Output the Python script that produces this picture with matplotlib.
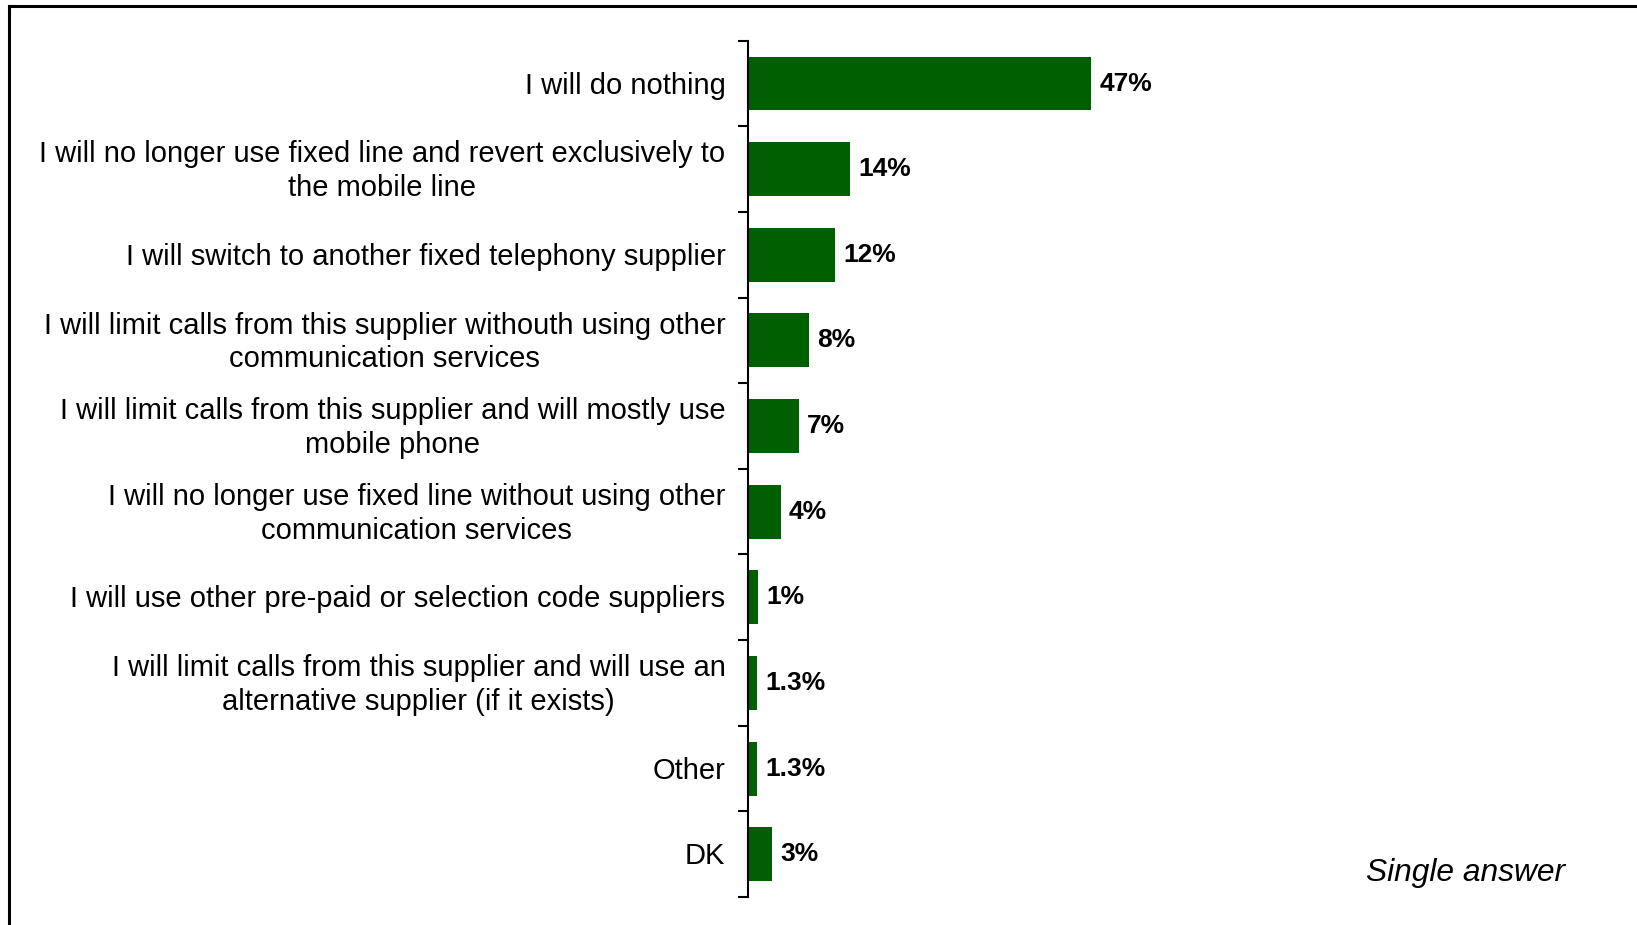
import numpy as np
import matplotlib.pyplot as plt
from matplotlib.lines import Line2D
from matplotlib.transforms import ScaledTranslation

plt.rcParams['font.family'] = ['Liberation Sans', 'DejaVu Sans']

# Data
categories = [
    "I will do nothing",
    "I will no longer use fixed line and revert exclusively to\nthe mobile line",
    "I will switch to another fixed telephony supplier",
    "I will limit calls from this supplier withouth using other\ncommunication services",
    "I will limit calls from this supplier and will mostly use\nmobile phone",
    "I will no longer use fixed line without using other\ncommunication services",
    "I will use other pre-paid or selection code suppliers",
    "I will limit calls from this supplier and will use an\nalternative supplier (if it exists)",
    "Other",
    "DK",
]
values = [47, 14, 12, 8.4, 7, 4.5, 1.4, 1.3, 1.3, 3.3]
value_labels = ["47%", "14%", "12%", "8%", "7%", "4%", "1%", "1.3%", "1.3%", "3%"]

BAR_COLOR = "#005f00"

fig = plt.figure(figsize=(16.37, 9.25), dpi=100)
W, H = 1637, 925
ax_left, ax_right = 747.7 / W, 1477.7 / W
ax_top, ax_bottom = 1 - 40.7 / H, 1 - 897 / H
ax = fig.add_axes([ax_left, ax_bottom, ax_right - ax_left, ax_top - ax_bottom])

y = np.arange(len(categories))
ax.barh(y, values, height=0.63, color=BAR_COLOR)

for yi, v, lab in zip(y, values, value_labels):
    ax.annotate(lab, (v, yi), xytext=(6, 0), textcoords="offset points",
                va="center", ha="left", fontsize=19, fontweight="bold")

ax.set_xlim(0, 100)
ax.set_ylim(len(categories) - 0.5, -0.5)

ax.set_yticks(y)
ax.set_yticklabels(categories, fontsize=21, multialignment="center",
                   linespacing=1.26, va="center")
ax.set_yticks(np.arange(-0.5, len(categories)), minor=True)
ax.tick_params(axis="y", which="major", length=0, pad=16)
ax.tick_params(axis="y", which="minor", length=7, width=1.5, direction="out")
ax.set_xticks([])

# nudge category labels down a little
shift = ScaledTranslation(0, -2 / 100, fig.dpi_scale_trans)
for lab in ax.get_yticklabels():
    lab.set_transform(lab.get_transform() + shift)

for s in ["top", "right", "bottom"]:
    ax.spines[s].set_visible(False)
ax.spines["left"].set_linewidth(1.5)

fig.text(1366 / W, 1 - 873 / H, "Single answer", fontsize=22.9, style="italic",
         ha="left", va="center")

# frame around the slide
fig.add_artist(Line2D([9 / W, 1.0], [1 - 6 / H, 1 - 6 / H], color="black", lw=2.2,
                      transform=fig.transFigure))
fig.add_artist(Line2D([9 / W, 9 / W], [0, 1 - 6 / H], color="black", lw=2.2,
                      transform=fig.transFigure))

fig.savefig("out.png", dpi=100)
